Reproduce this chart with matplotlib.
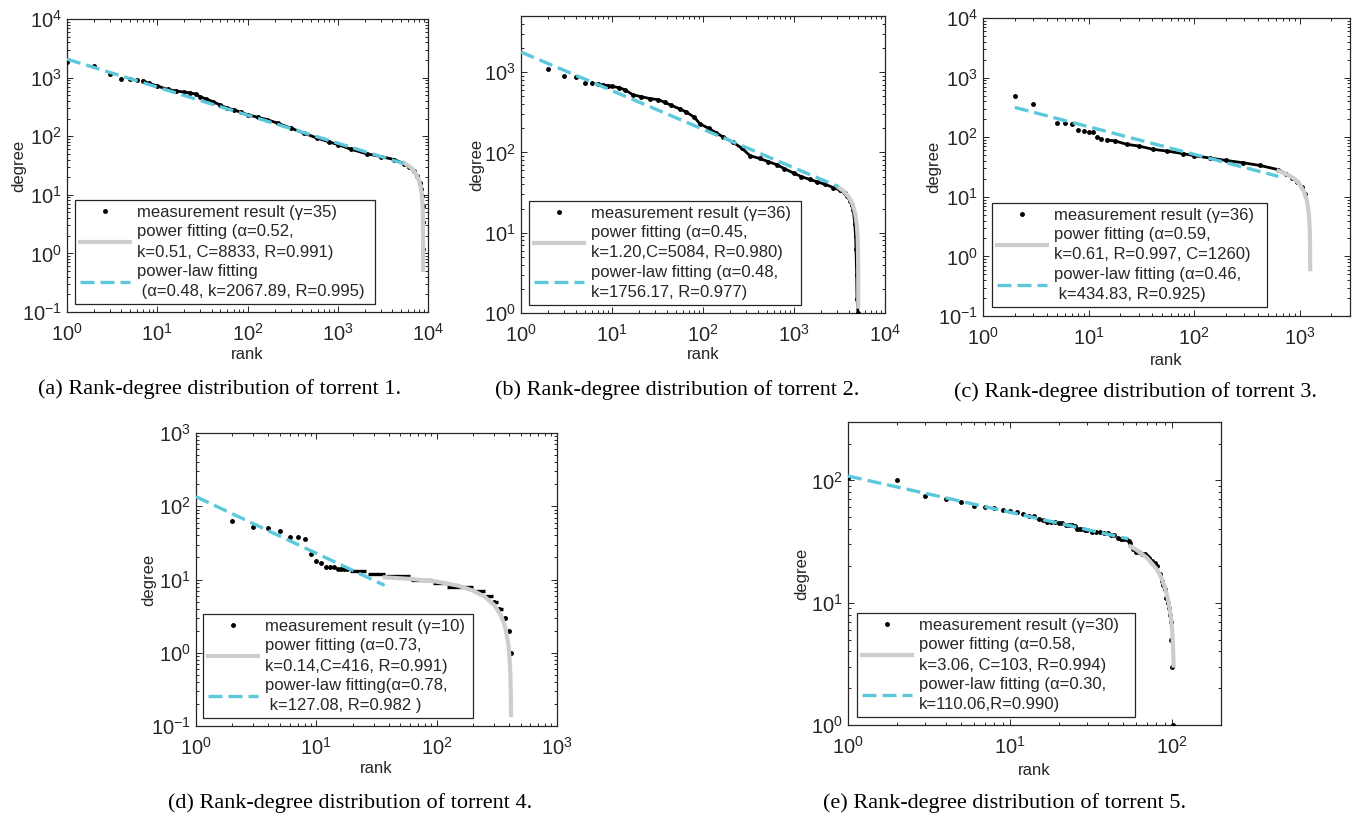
import matplotlib
matplotlib.use('Agg')
import matplotlib.pyplot as plt
from matplotlib.ticker import LogLocator, NullFormatter

plt.rcParams['font.family'] = ['Liberation Sans', 'DejaVu Sans']
plt.rcParams['mathtext.fontset'] = 'custom'
plt.rcParams['mathtext.rm'] = 'Liberation Sans'
plt.rcParams['mathtext.default'] = 'regular'

# ---------------- torrent 1 ----------------
t1_rank = [1, 2, 3, 4, 5, 6, 7, 8, 10, 13, 16, 20, 23, 27, 30, 35, 42, 50, 60, 70,
           85, 100, 130, 165, 220, 300, 420, 590, 800, 1000, 1400, 2100, 3000, 4200,
           5400, 6200, 7000, 7600, 8100, 8400, 8600, 8720, 8800, 8830]
t1_deg = [1850, 1550, 1150, 960, 940, 900, 885, 800, 720, 630, 590, 565, 550, 520, 470,
          430, 385, 340, 300, 283, 255, 233, 210, 192, 165, 138, 113, 93, 80, 72, 60,
          50, 45, 40, 34, 30, 25, 21, 16, 12.5, 9.5, 6.5, 3.5, 1.2]
t1_pow_rank = [5400, 5500, 6000, 6500, 7000, 7500, 7900, 8200, 8400, 8550, 8680, 8760,
               8800, 8820, 8830, 8832]
t1_pow_deg = [35.2, 34.6, 31.8, 28.8, 25.4, 21.5, 17.9, 14.6, 11.9, 9.6, 7.0, 4.75,
              3.1, 1.94, 0.9, 0.52]
t1_pl_rank = [1, 5400]
t1_pl_deg = [2068, 34]

# ---------------- torrent 2 ----------------
t2_rank = [2, 3, 4, 5, 6, 7, 8, 9, 10, 12, 14, 17, 21, 26, 32, 38, 45, 56, 65, 80, 93,
           115, 140, 166, 215, 270, 328, 420, 520, 650, 780, 1000, 1200, 1500, 1800,
           2200, 2700, 3200, 3600, 3800, 4100, 4300, 4490, 4650, 4750, 4800, 4880,
           4920, 5050]
t2_deg = [1100, 890, 860, 735, 730, 705, 690, 680, 665, 640, 600, 520, 495, 468, 455,
          420, 385, 347, 320, 275, 226, 200, 175, 156, 133, 112, 91, 84, 77, 70, 63,
          55, 50, 46, 43, 40, 36.5, 34, 31, 29, 25, 22, 19, 13, 9, 6.2, 3, 1.5, 1]
t2_pow_rank = [3050, 3500, 4000, 4400, 4700, 4900, 5000, 5050, 5075, 5083]
t2_pow_deg = [37, 33, 27.8, 22.6, 17.5, 12.5, 8.8, 5.9, 3.2, 1.2]
t2_pl_rank = [1, 3070]
t2_pl_deg = [1778, 37.5]

# ---------------- torrent 3 ----------------
t3_rank = [2, 3, 5, 6, 7, 8, 9, 10, 11, 12, 13, 15, 18, 23, 30, 41, 55, 79, 100,
           141, 200, 290, 420, 630, 750, 850, 950, 1050, 1130]
t3_deg = [492, 357, 175, 175, 169, 134, 125, 122, 122, 101, 94, 90, 86, 76, 71,
          62.5, 58.6, 52.9, 49, 44.7, 40.8, 37.3, 33.6, 28.5, 24, 21, 18, 14.5, 11]
t3_pow_rank = [630, 800, 900, 1000, 1100, 1170, 1220, 1245, 1255, 1259]
t3_pow_deg = [27.3, 22.7, 19.7, 16.2, 12.2, 8.7, 5.4, 3.0, 1.6, 0.61]
t3_pl_rank = [2, 630]
t3_pl_deg = [316, 22]

# ---------------- torrent 4 ----------------
t4_rank = [2, 3, 4, 5, 6, 7, 8, 9, 10, 11, 12, 13, 14, 15, 16, 17, 18,
           297, 330, 372, 397, 418]
t4_deg = [62, 52, 51, 46, 38, 38, 36, 22, 18, 17, 15, 15, 15, 14, 14, 14, 14,
          5, 4, 3, 2, 1]
# integer degrees -> flat runs of ranks
t4_step_deg = [13, 12, 11, 10, 9, 8, 7, 6, 5, 4, 3, 2]
t4_step_start = [19, 27, 38, 61, 93, 121, 201, 251, 293, 326, 356, 386]
t4_step_end = [26, 37, 60, 92, 120, 200, 250, 292, 325, 355, 385, 405]
t4_pow_rank = [37, 60, 100, 150, 200, 250, 300, 340, 370, 395, 408, 414, 415]
t4_pow_deg = [10.7, 10.2, 9.35, 8.25, 7.08, 5.84, 4.5, 3.3, 2.3, 1.29, 0.64, 0.23, 0.14]
t4_pl_rank = [1, 37]
t4_pl_deg = [135, 8.3]

# ---------------- torrent 5 ----------------
t5_rank = [1, 2, 3, 4, 5, 6, 7, 8, 9, 10, 11, 12, 13, 14, 15, 16, 17, 18, 19, 20, 21,
           22, 23, 24, 25, 26, 27, 28, 29, 30, 32, 34, 36, 38, 40, 42, 44, 46, 48, 50,
           52, 54, 55, 57, 60, 62, 65, 68, 70, 72, 75, 78, 81, 84, 86, 88, 90, 92, 94,
           96, 97, 98, 99, 100, 101]
t5_deg = [105, 100, 74, 70, 66, 62, 60, 59, 57, 56, 55, 53, 51, 51, 48, 47, 46, 46, 46,
          45, 45, 43, 43, 43, 42, 40, 40, 40, 39, 39, 38, 38, 38, 37, 37, 36, 36, 34,
          33, 33, 33, 32, 31, 27.5, 26, 26, 25, 25, 24, 23, 22, 21, 20, 17, 15, 14, 13,
          11, 10, 9, 8, 7, 5, 3, 1]
t5_pow_rank = [55, 60, 70, 80, 85, 90, 95, 98, 100, 101, 102]
t5_pow_deg = [28.9, 27.1, 23.2, 18.9, 16.4, 13.5, 10.2, 7.8, 5.8, 4.6, 3.06]
t5_pl_rank = [1, 53.5]
t5_pl_deg = [108.6, 33.3]

labels = [
    ['measurement result (γ=35)', 'power fitting (α=0.52,\nk=0.51, C=8833, R=0.991)',
     'power-law fitting\n (α=0.48, k=2067.89, R=0.995)'],
    ['measurement result (γ=36)', 'power fitting (α=0.45,\nk=1.20,C=5084, R=0.980)',
     'power-law fitting (α=0.48,\nk=1756.17, R=0.977)'],
    ['measurement result (γ=36)', 'power fitting (α=0.59,\nk=0.61, R=0.997, C=1260)',
     'power-law fitting (α=0.46,\n k=434.83, R=0.925)'],
    ['measurement result (γ=10)', 'power fitting (α=0.73,\nk=0.14,C=416, R=0.991)',
     'power-law fitting(α=0.78,\n k=127.08, R=0.982 )'],
    ['measurement result (γ=30)', 'power fitting (α=0.58,\nk=3.06, C=103, R=0.994)',
     'power-law fitting (α=0.30,\nk=110.06,R=0.990)'],
]
captions = ['(a) Rank-degree distribution of torrent 1.',
            '(b) Rank-degree distribution of torrent 2.',
            '(c) Rank-degree distribution of torrent 3.',
            '(d) Rank-degree distribution of torrent 4.',
            '(e) Rank-degree distribution of torrent 5.']

CYAN = '#5CC8DC'
GRAY = '#CDCDCD'
INK = '#262626'
W, H = 1356, 817

fig = plt.figure(figsize=(W / 100, H / 100), dpi=100)

# pixel boxes (left, top, right, bottom), legend box in axes coords, label coords
panels = [
    dict(box=(67, 19, 428, 312), xlim=(1, 1e4), ylim=(0.1, 1e4), leg=(0.022, 0.027, 0.831),
         ylab=-0.114, xlab=-0.121, cap=(220, 389), dense=7,
         data=(t1_rank, t1_deg, t1_pow_rank, t1_pow_deg, t1_pl_rank, t1_pl_deg)),
    dict(box=(521, 16, 885, 313), xlim=(1, 1e4), ylim=(1, 5000), leg=(0.022, 0.027, 0.747),
         ylab=-0.102, xlab=-0.116, cap=(677, 390), dense=7,
         data=(t2_rank, t2_deg, t2_pow_rank, t2_pow_deg, t2_pl_rank, t2_pl_deg)),
    dict(box=(983, 18, 1350, 316), xlim=(1, 3000), ylim=(0.1, 1e4), leg=(0.025, 0.030, 0.749),
         ylab=-0.114, xlab=-0.123, cap=(1135, 392), dense=15,
         data=(t3_rank, t3_deg, t3_pow_rank, t3_pow_deg, t3_pl_rank, t3_pl_deg)),
    dict(box=(196, 433, 557, 726), xlim=(1, 1e3), ylim=(0.1, 1e3), leg=(0.019, 0.027, 0.748),
         ylab=-0.111, xlab=-0.121, cap=(350, 803), dense=None,
         data=(t4_rank, t4_deg, t4_pow_rank, t4_pow_deg, t4_pl_rank, t4_pl_deg)),
    dict(box=(848, 422, 1221, 725), xlim=(1, 200), ylim=(1, 300), leg=(0.024, 0.026, 0.745),
         ylab=-0.105, xlab=-0.124, cap=(1005, 803), dense=None,
         data=(t5_rank, t5_deg, t5_pow_rank, t5_pow_deg, t5_pl_rank, t5_pl_deg)),
]

for i, p in enumerate(panels):
    l, t, r, b = p['box']
    ax = fig.add_axes([l / W, 1 - b / H, (r - l) / W, (b - t) / H])
    ax.set_xscale('log')
    ax.set_yscale('log')
    rank, deg, pr, pd_, lr, ld = p['data']

    # dense part of the measurement looks like a thick line
    if p['dense'] is not None:
        ax.plot([x for x in rank if x >= p['dense']],
                [y for x, y in zip(rank, deg) if x >= p['dense']],
                color='black', lw=2.0, zorder=2)
    if i == 3:
        ax.hlines(t4_step_deg, t4_step_start, t4_step_end, color='black', lw=2.4, zorder=2)
    h1, = ax.plot(rank, deg, ls='none', marker='.', ms=5, color='black', zorder=3,
                  label=labels[i][0])
    h2, = ax.plot(pr, pd_, color=GRAY, lw=3, zorder=4, label=labels[i][1])
    h3, = ax.plot(lr, ld, color=CYAN, lw=2.4, ls=(0, (4.2, 1.8)), zorder=5,
                  label=labels[i][2])

    ax.set_xlim(*p['xlim'])
    ax.set_ylim(*p['ylim'])
    for axis in (ax.xaxis, ax.yaxis):
        axis.set_major_locator(LogLocator(base=10, numticks=20))
        axis.set_minor_locator(LogLocator(base=10, subs=range(2, 10), numticks=20))
        axis.set_minor_formatter(NullFormatter())
    ax.tick_params(which='both', direction='in', top=True, right=True, colors=INK,
                   labelsize=14.5, width=0.7)
    ax.tick_params(which='major', length=4.2)
    ax.tick_params(which='minor', length=2.2)
    ax.tick_params(axis='x', which='major', pad=7.5)
    ax.tick_params(axis='y', which='major', pad=3.5)
    for s in ax.spines.values():
        s.set_color(INK)
        s.set_linewidth(0.9)

    ax.set_xlabel('rank', fontsize=12, color=INK)
    ax.set_ylabel('degree', fontsize=12, color=INK)
    ax.xaxis.set_label_coords(0.5, p['xlab'])
    ax.yaxis.set_label_coords(p['ylab'], 0.5)

    x0, y0, lw_ = p['leg']
    leg = ax.legend(handles=[h1, h2, h3], loc='lower left', bbox_to_anchor=(x0, y0, lw_, 0.5),
                    mode='expand', borderaxespad=0, fontsize=12, frameon=True,
                    fancybox=False, framealpha=1, edgecolor=INK, handlelength=3.0,
                    handletextpad=0.4, labelspacing=0.25, borderpad=0.3, numpoints=1)
    leg.get_frame().set_linewidth(0.9)
    for txt in leg.get_texts():
        txt.set_color(INK)
        txt.set_linespacing(1.45)

    cx, cy = p['cap']
    fig.text(cx / W, 1 - cy / H, captions[i], ha='center', va='center', fontsize=16,
             family='Liberation Serif')

fig.savefig('out.png', dpi=100)
